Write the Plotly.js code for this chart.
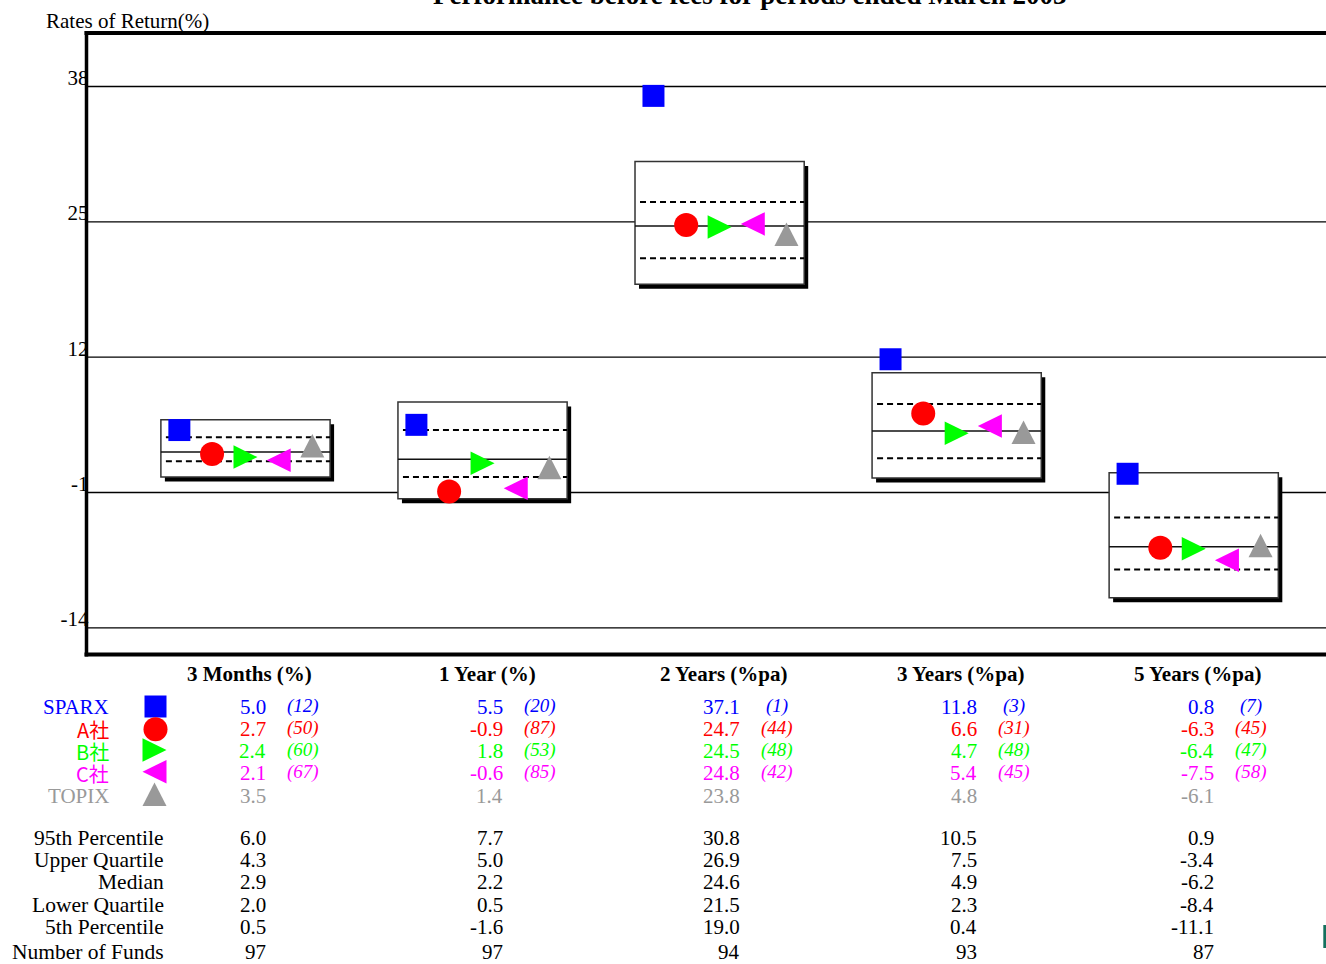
<!DOCTYPE html>
<html><head><meta charset="utf-8">
<script src="https://cdn.plot.ly/plotly-3.0.1.min.js"></script>
<style>html,body{margin:0;padding:0;overflow:hidden;background:#fff}</style>
</head><body><div id="chart" style="width:1326px;height:964px"></div>
<script>
// ---------------- data ----------------
const periods = ["3 Months (%)", "1 Year (%)", "2 Years (%pa)", "3 Years (%pa)", "5 Years (%pa)"];
const seriesNames = ["SPARX", "A社", "B社", "C社", "TOPIX"];
const sparx = [5.0, 5.5, 37.1, 11.8, 0.8];
const fundA = [2.7, -0.9, 24.7, 6.6, -6.3];
const fundB = [2.4, 1.8, 24.5, 4.7, -6.4];
const fundC = [2.1, -0.6, 24.8, 5.4, -7.5];
const topix = [3.5, 1.4, 23.8, 4.8, -6.1];
const rankSparx = [12, 20, 1, 3, 7];
const rankA = [50, 87, 44, 31, 45];
const rankB = [60, 53, 48, 48, 47];
const rankC = [67, 85, 42, 45, 58];
const pct95 = [6.0, 7.7, 30.8, 10.5, 0.9];
const upperQ = [4.3, 5.0, 26.9, 7.5, -3.4];
const median = [2.9, 2.2, 24.6, 4.9, -6.2];
const lowerQ = [2.0, 0.5, 21.5, 2.3, -8.4];
const pct5 = [0.5, -1.6, 19.0, 0.4, -11.1];
const numFunds = [97, 97, 94, 93, 87];
const yTicks = [38, 25, 12, -1, -14];
const statLabels = ["95th Percentile", "Upper Quartile", "Median", "Lower Quartile", "5th Percentile", "Number of Funds"];

// ---------------- layout / style ----------------
const W = 1326, H = 964;
const plotLeft = 86.5, plotTop = 33, plotBottom = 654.5;
const xRange = [-0.6707, 4.558];
const yRange = [-16.56, 43.14];
const pxPerX = (W - plotLeft) / (xRange[1] - xRange[0]);
const pxPerY = (plotBottom - plotTop) / (yRange[1] - yRange[0]);
const boxHalf = 84.6 / pxPerX;
const offsets = [-0.279, -0.141, 0, 0.14, 0.282];
const colors = ["#0000ff", "#ff0000", "#00ff00", "#ff00ff", "#999999"];
const symbols = ["square", "circle", "triangle-right", "triangle-left", "triangle-up"];
const sizes = [22, 24, 23, 23, 23];
// triangle outlines in pixels around their anchor point (y positive = up)
const triPaths = {
  "triangle-right": "M-12,11.75L12,0L-12,-11.75Z",
  "triangle-left": "M12,11.75L-12,0L12,-11.75Z",
  "triangle-up": "M-12,-11.75L12,-11.75L0,11.75Z"
};
const serif = "Liberation Serif, Times New Roman, serif";
const cjk = "Noto Sans CJK JP, sans-serif";
const py = p => 1 - p / H;
const px = p => p / W;

const seriesVals = [sparx, fundA, fundB, fundC, topix];
const seriesRanks = [rankSparx, rankA, rankB, rankC, null];
const statVals = [pct95, upperQ, median, lowerQ, pct5, numFunds];

const headerRow = 673.5;
const seriesRows = [706.7, 729, 751, 773, 795.5];
const keyRows = [706.5, 729.3, 750, 771.7, 794.3];
const statRows = [837.5, 859.5, 882, 904.5, 926.5, 952];
const keyX = [155.5, 155.5, 154.5, 154.5, 154.5];

const traces = [];
const shapes = [];
yTicks.forEach(v => shapes.push({type: "line", xref: "x", yref: "y", x0: xRange[0], x1: xRange[1], y0: v, y1: v,
  line: {color: "#000", width: 1.3}, layer: "below"}));
const dx = 4 / pxPerX, dy = 4.5 / pxPerY, dashInset = 5 / pxPerX;
periods.forEach((_, i) => {
  shapes.push({type: "rect", xref: "x", yref: "y", x0: i - boxHalf + dx, x1: i + boxHalf + dx,
    y0: pct5[i] - dy, y1: pct95[i] - dy, fillcolor: "#000", line: {width: 0}, layer: "below"});
  shapes.push({type: "rect", xref: "x", yref: "y", x0: i - boxHalf, x1: i + boxHalf,
    y0: pct5[i], y1: pct95[i], fillcolor: "#fff", line: {color: "#333", width: 1.5}, layer: "below"});
  [upperQ[i], lowerQ[i]].forEach(q => shapes.push({type: "line", xref: "x", yref: "y",
    x0: i - boxHalf + dashInset, x1: i + boxHalf, y0: q, y1: q,
    line: {color: "#000", width: 2, dash: "6px,4px"}, layer: "below"}));
  shapes.push({type: "line", xref: "x", yref: "y", x0: i - boxHalf, x1: i + boxHalf, y0: median[i], y1: median[i],
    line: {color: "#111", width: 1.5}, layer: "below"});
});

// data points: square & circle as scatter markers, triangles as pixel-sized paths anchored on the data
seriesNames.forEach((n, s) => {
  const xs = periods.map((_, i) => i + offsets[s]);
  if (triPaths[symbols[s]]) {
    xs.forEach((x, i) => shapes.push({type: "path", xref: "x", yref: "y", xsizemode: "pixel", ysizemode: "pixel",
      xanchor: x, yanchor: seriesVals[s][i], path: triPaths[symbols[s]], fillcolor: colors[s], line: {width: 0}, layer: "above"}));
  } else {
    traces.push({type: "scatter", mode: "markers", name: n, x: xs, y: seriesVals[s],
      marker: {symbol: symbols[s], size: sizes[s], color: colors[s], opacity: 1, line: {width: 0}},
      hoverinfo: "skip", showlegend: false, cliponaxis: false});
  }
  // legend key in the table (pixel-space helper axes x2/y2)
  if (triPaths[symbols[s]]) {
    shapes.push({type: "path", xref: "x2", yref: "y2", xsizemode: "pixel", ysizemode: "pixel",
      xanchor: keyX[s], yanchor: keyRows[s], path: triPaths[symbols[s]], fillcolor: colors[s], line: {width: 0}, layer: "above"});
  } else {
    traces.push({type: "scatter", mode: "markers", xaxis: "x2", yaxis: "y2", x: [keyX[s]], y: [keyRows[s]],
      marker: {symbol: symbols[s], size: sizes[s], color: colors[s], opacity: 1, line: {width: 0}},
      hoverinfo: "skip", showlegend: false, cliponaxis: false});
  }
});

// frame (no right edge)
shapes.push({type: "line", xref: "paper", yref: "paper", x0: px(plotLeft - 2), x1: 1, y0: py(plotTop), y1: py(plotTop), line: {color: "#000", width: 4}});
shapes.push({type: "line", xref: "paper", yref: "paper", x0: px(plotLeft - 2), x1: 1, y0: py(plotBottom), y1: py(plotBottom), line: {color: "#000", width: 4}});
shapes.push({type: "line", xref: "paper", yref: "paper", x0: px(plotLeft), x1: px(plotLeft), y0: py(plotBottom + 2), y1: py(plotTop - 2), line: {color: "#000", width: 3.5}});
// small mark at bottom right edge
shapes.push({type: "rect", xref: "paper", yref: "paper", x0: px(1323.3), x1: 1, y0: py(948), y1: py(925), fillcolor: "#15705e", line: {width: 0}});

const ann = [];
const A = o => ann.push(Object.assign({showarrow: false, borderpad: 0, borderwidth: 0}, o));
A({text: "<b>Performance before fees for periods ended March 2003</b>", xref: "paper", yref: "paper",
  x: px(750), y: py(-4.6), xanchor: "center", yanchor: "middle", font: {family: serif, size: 27, color: "#000"}});
A({text: "Rates of Return(%)", xref: "paper", yref: "paper", x: px(45.5), y: py(21), xanchor: "left", yanchor: "middle",
  font: {family: serif, size: 21, color: "#000"}});
periods.forEach((p, i) => {
  A({text: "<b>" + p + "</b>", xref: "x", yref: "paper", x: i, xshift: 4.5, y: py(headerRow), xanchor: "center", yanchor: "middle",
    font: {family: serif, size: 21, color: "#000"}});
  seriesNames.forEach((n, s) => {
    A({text: seriesVals[s][i].toFixed(1), xref: "x", yref: "paper", x: i, xshift: 20.5, y: py(seriesRows[s]),
      xanchor: "right", yanchor: "middle", font: {family: serif, size: 21, color: colors[s]}});
    if (seriesRanks[s]) A({text: "<i>(" + seriesRanks[s][i] + ")</i>", xref: "x", yref: "paper", x: i, xshift: 57.5,
      y: py(seriesRows[s] - 1), xanchor: "center", yanchor: "middle", font: {family: serif, size: 19, color: colors[s]}});
  });
  statVals.forEach((arr, k) => {
    A({text: k < 5 ? arr[i].toFixed(1) : String(arr[i]), xref: "x", yref: "paper", x: i, xshift: 20.5, y: py(statRows[k]),
      xanchor: "right", yanchor: "middle", font: {family: serif, size: 21, color: "#000"}});
  });
});
seriesNames.forEach((n, s) => {
  const isCjk = /社/.test(n);
  A({text: n, xref: "paper", yref: "paper", x: px(109), y: py(seriesRows[s]), xanchor: "right", yanchor: "middle",
    font: {family: isCjk ? cjk : serif, size: isCjk ? 20 : 21, color: colors[s]}});
});
statLabels.forEach((l, k) => A({text: l, xref: "paper", yref: "paper", x: px(163.5), y: py(statRows[k]),
  xanchor: "right", yanchor: "middle", font: {family: serif, size: 21.5, color: "#000"}}));

const layout = {
  width: W, height: H, margin: {l: 0, r: 0, t: 0, b: 0}, paper_bgcolor: "#fff", plot_bgcolor: "rgba(0,0,0,0)",
  showlegend: false,
  xaxis: {domain: [px(plotLeft), 1], range: xRange, showgrid: false, zeroline: false, showline: false,
    showticklabels: false, ticks: "", fixedrange: true},
  yaxis: {domain: [py(plotBottom), py(plotTop)], range: yRange, showgrid: false, zeroline: false, showline: false,
    tickmode: "array", tickvals: yTicks, ticktext: yTicks.map(String), ticks: "",
    ticklabelshift: -9, ticklabelstandoff: -3, tickfont: {family: serif, size: 21, color: "#000"}, fixedrange: true},
  xaxis2: {domain: [0, 1], range: [0, W], visible: false, fixedrange: true, anchor: "y2"},
  yaxis2: {domain: [0, 1], range: [H, 0], visible: false, fixedrange: true, anchor: "x2"},
  shapes: shapes, annotations: ann
};
Plotly.newPlot("chart", traces, layout, {staticPlot: true, displayModeBar: false});
</script></body></html>
